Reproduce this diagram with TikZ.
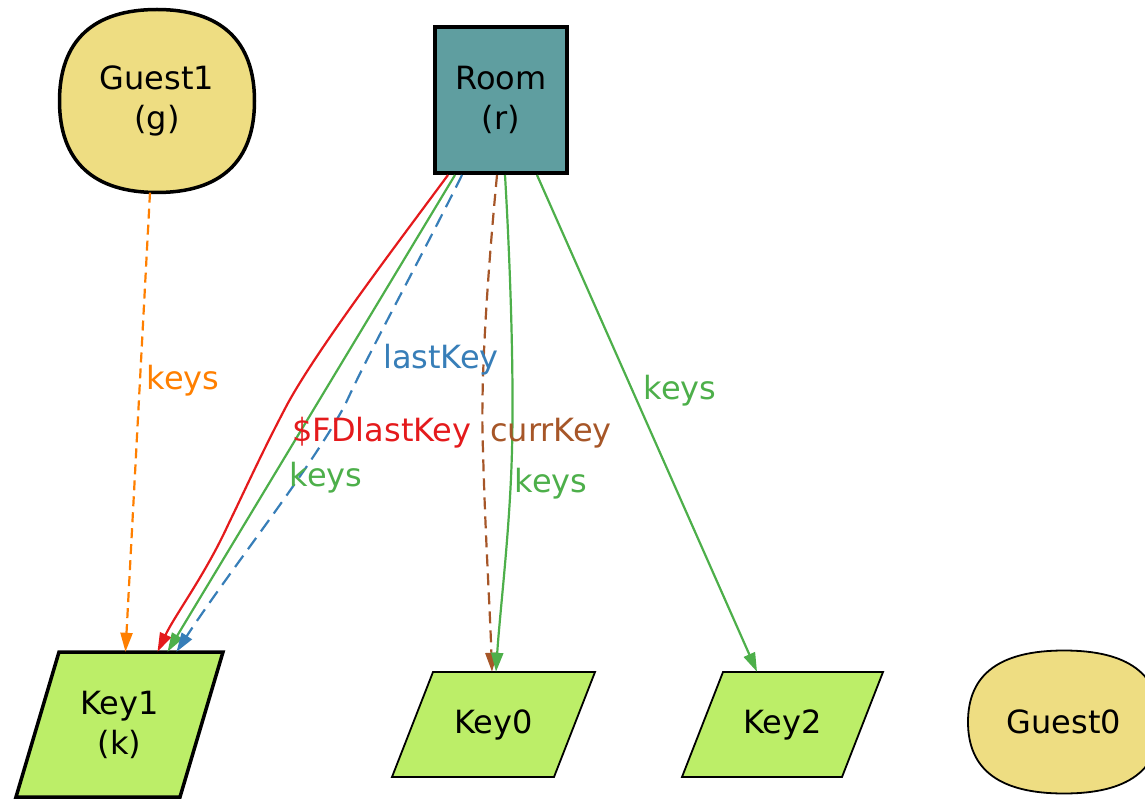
\documentclass[tikz,border=0pt]{standalone}
\usepackage{fontspec}
\setmainfont{DejaVu Sans}
\usetikzlibrary{arrows.meta,calc}
\definecolor{guestfill}{HTML}{EEDD82}
\definecolor{roomfill}{HTML}{5F9EA0}
\definecolor{keyfill}{HTML}{BCEE68}
\definecolor{cred}{HTML}{E41A1C}
\definecolor{cblue}{HTML}{377EB8}
\definecolor{cgreen}{HTML}{4DAF4A}
\definecolor{corange}{HTML}{FF7F00}
\definecolor{cbrown}{HTML}{A65628}
\begin{document}
\begin{tikzpicture}[x=1pt,y=-1pt,
  every node/.style={font=\fontsize{32}{40}\selectfont, align=center, inner sep=0pt},
  guestshape/.style={draw=black, fill=guestfill},
  roombox/.style={draw=black, fill=roomfill, rectangle, line width=4pt, minimum width=132pt, minimum height=146pt},
  keyshape/.style={draw=black, fill=keyfill, line join=miter},
  plainbox/.style={rectangle, draw=none},
  conn/.style={line width=2.2pt, -{Triangle[length=19pt,width=12pt]}},
  lbl/.style={rectangle}
]
\useasboundingbox (0,0) rectangle (1145,799);

% outlines: squircles of the Guest atoms
\path[guestshape, line width=3.5pt] (254.5,101) .. controls (254.5,162) and (220,192.5) .. (157,192.5)
  .. controls (94,192.5) and (59.5,162) .. (59.5,101)
  .. controls (59.5,40) and (94,9.5) .. (157,9.5)
  .. controls (220,9.5) and (254.5,40) .. cycle;
\path[guestshape, line width=1.8pt] (1160,722) .. controls (1160,770) and (1128,793.5) .. (1064,793.5)
  .. controls (1000,793.5) and (968,770) .. (968,722)
  .. controls (968,674) and (1000,650.5) .. (1064,650.5)
  .. controls (1128,650.5) and (1160,674) .. cycle;
% parallelogram outlines of the Key atoms
\draw[keyshape, line width=3.5pt] (59,652) -- (223,652) -- (180,797) -- (16,797) -- cycle;
\draw[keyshape, line width=1.8pt] (433,672) -- (595,672) -- (554,777) -- (392,777) -- cycle;
\draw[keyshape, line width=1.8pt] (723,672) -- (883,672) -- (842,777) -- (682,777) -- cycle;

% nodes
\node[plainbox, minimum width=195pt, minimum height=183pt] (g1) at (157,101) {Guest1\\(g)};
\node[roombox] (r) at (501,100) {Room\\(r)};
\node[plainbox, minimum width=164pt, minimum height=145pt] (k1) at (119.5,724.5) {Key1\\(k)};
\node[plainbox, minimum width=162pt, minimum height=105pt] (k0) at (493.5,724.5) {Key0};
\node[plainbox, minimum width=160pt, minimum height=105pt] (k2) at (782.5,724.5) {Key2};
\node[plainbox, minimum width=192pt, minimum height=143pt] (g0) at (1064,722) {Guest0};

% connectors
\draw[conn, corange, dash pattern=on 10pt off 6pt] ([xshift=-7pt]g1.south) -- ([xshift=6pt]k1.north);
\draw[conn, cred] ([xshift=-53pt]r.south) .. controls (400,240) and (320,345) .. (288,403)
   .. controls (263,450) and (245,490) .. (228,525)
   .. controls (205,575) and (175,615) .. ([xshift=38pt]k1.north);
\draw[conn, cgreen] ([xshift=-46pt]r.south) -- ([xshift=48pt]k1.north);
\draw[conn, cblue, dash pattern=on 14pt off 8pt] ([xshift=-39pt]r.south) .. controls (420,260) and (370,350) .. (345,405)
   .. controls (310,470) and (230,570) .. ([xshift=57pt]k1.north);
\draw[conn, cbrown, dash pattern=on 12pt off 7pt] ([xshift=-4pt]r.south) .. controls (488,270) and (480,380) .. (483,450)
   .. controls (485,530) and (490,610) .. ([xshift=-1.5pt]k0.north);
\draw[conn, cgreen] ([xshift=4pt]r.south) .. controls (510,260) and (514,370) .. (512,450)
   .. controls (510,530) and (500,610) .. ([xshift=2.5pt]k0.north);
\draw[conn, cgreen] ([xshift=36pt]r.south) -- ([xshift=-25.5pt]k2.north);

% labels
\node[lbl, text=corange] (lk1) at (183,381) {keys};
\node[lbl, text=cblue] (lk2) at (441,360) {lastKey};
\node[lbl, text=cred] (lk3) at (382,433) {\$FDlastKey};
\node[lbl, text=cgreen] (lk4) at (326,478) {keys};
\node[lbl, text=cbrown] (lk5) at (551,433) {currKey};
\node[lbl, text=cgreen] (lk6) at (551,484) {keys};
\node[lbl, text=cgreen] (lk7) at (680,391) {keys};
\end{tikzpicture}
\end{document}
